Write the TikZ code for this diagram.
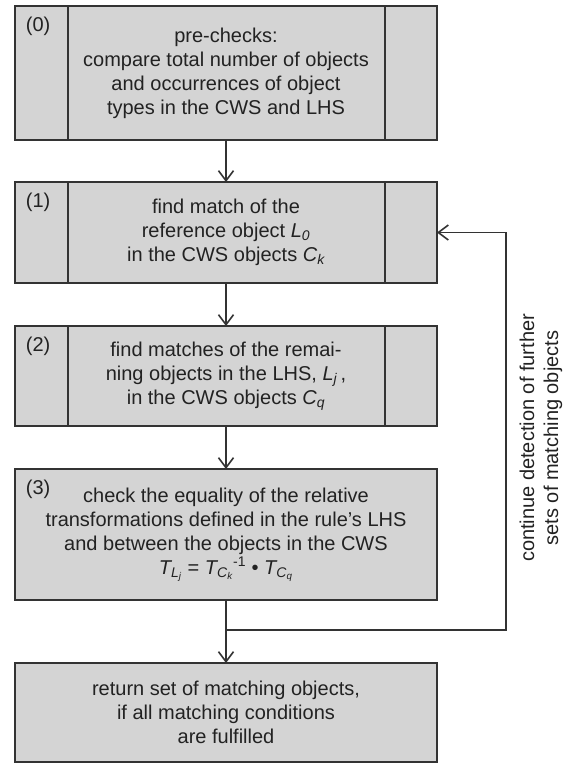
\documentclass[tikz,border=0pt]{standalone}
\usepackage{fontspec}
\setmainfont{Liberation Sans}
\usetikzlibrary{arrows.meta,calc,positioning}
\definecolor{boxgray}{HTML}{D4D4D4}
\definecolor{linegray}{HTML}{333333}
\definecolor{textgray}{HTML}{222222}
\tikzset{
flowchart/.style={>={Straight Barb[length=10pt,width=15pt,line width=1.6pt]},
line width=1.8pt,node distance=43pt,font=\fontsize{20}{24}\selectfont,text=textgray},
stage/.style={rectangle,draw=linegray,fill=boxgray,minimum width=422pt,
minimum height=#1,align=center,inner sep=0pt,outer sep=0pt},
stage/.default={100pt},
stagenum/.style={anchor=base west,inner sep=0pt},
flow/.style={->,draw=linegray},
}

\begin{document}
\begin{tikzpicture}[flowchart]
\useasboundingbox (0pt,0pt) rectangle (575pt,-766pt);
\node[stage=134pt] (pre) at (226pt,-73pt) {pre-checks:\\ compare total number of objects\\ and occurrences of object\\ types in the CWS and LHS};
\node[stage=101pt,below=42pt of pre] (first) {find match of the\\ reference object \textit{L\textsubscript{0}}\\ in the CWS objects \textit{C\textsubscript{k}}};
\node[stage=100pt,below=of first] (second) {find matches of the remai-\\ ning objects in the LHS, \textit{L\textsubscript{j}}\,,\\ in the CWS objects \textit{C\textsubscript{q}}};
\node[stage=131pt,below=of second] (check) {check the equality of the relative\\ transformations defined in the rule's LHS\\ and between the objects in the CWS\\ \textit{T\textsubscript{L\textsubscript{j}}} = \textit{T\textsubscript{C\textsubscript{k}}\textsuperscript{\upshape -1}} \textbullet{} \textit{T\textsubscript{C\textsubscript{q}}}};
\node[stage=99pt,below=63pt of check] (result) {return set of matching objects,\\ if all matching conditions\\ are fulfilled};

% step numbers
\node[stagenum] at ([xshift=10pt,yshift=-25pt]pre.north west) {(0)};
\node[stagenum] at ([xshift=10pt,yshift=-25pt]first.north west) {(1)};
\node[stagenum] at ([xshift=10pt,yshift=-25pt]second.north west) {(2)};
\node[stagenum] at ([xshift=10pt,yshift=-25pt]check.north west) {(3)};

% side columns
\foreach \s in {pre,first,second}{
  \draw[linegray] ([xshift=53pt]\s.north west) -- ([xshift=53pt]\s.south west);
  \draw[linegray] ([xshift=-52pt]\s.north east) -- ([xshift=-52pt]\s.south east);
}

\path[flow] (pre) edge (first);
\path[flow] (first) edge (second);
\path[flow] (second) edge (check);
\path[flow] (check) edge (result);

% loop back
\coordinate (split) at ($(check.south)!0.48!(result.north)$);
\coordinate (back) at ([xshift=69pt]split -| check.east);
\draw[flow] (split) -- (back) |- (first.east);
\node[rotate=90,align=center,inner sep=0pt] (again) at (541pt,-438pt) {continue detection of further\\ sets of matching objects};
\end{tikzpicture}
\end{document}
